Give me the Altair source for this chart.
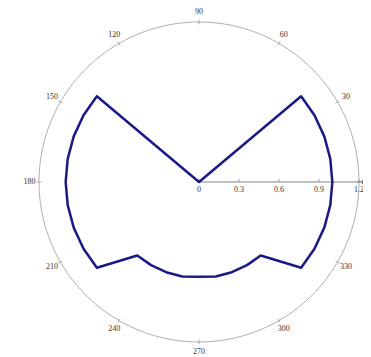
import altair as alt
import pandas as pd

# ---- data ----
theta_deg = [0, 10, 20, 30, 40, 50, 60, 70, 80, 90, 100, 110, 120, 130,
             140, 150, 160, 170, 180, 190, 200, 210, 220, 230, 240, 250,
             260, 270, 280, 290, 300, 310, 320, 330, 340, 350, 360]
r_vals = [1.0, 1.0, 1.0, 1.0, 1.0, 0.0, 0.0, 0.0, 0.0, 0.0, 0.0, 0.0, 0.0, 0.0,
          1.0, 1.0, 1.0, 1.0, 1.0, 1.0, 1.0, 1.0, 1.0, 0.72, 0.72, 0.72,
          0.72, 0.71, 0.72, 0.72, 0.72, 0.72, 1.0, 1.0, 1.0, 1.0, 1.0]
angle_ticks = [0, 30, 60, 90, 120, 150, 180, 210, 240, 270, 300, 330]
angle_labels = ["", "30", "60", "90", "120", "150", "180", "210", "240", "270", "300", "330"]
radial_ticks = [0, 0.3, 0.6, 0.9, 1.2]
radial_labels = ["0", "0.3", "0.6", "0.9", "1.2"]
r_max = 1.2

FONT = "Liberation Serif"
GRID = "#9a9a9a"
TXT = "#333333"

curve_df = pd.DataFrame({"theta": theta_deg, "r": r_vals, "order": list(range(len(theta_deg)))})
ang_df = pd.DataFrame({"a": angle_ticks, "label": angle_labels, "rmax": [r_max] * len(angle_ticks)})
rad_df = pd.DataFrame({"v": radial_ticks, "label": radial_labels})

xs = alt.Scale(domain=[-r_max, r_max], nice=False, zero=False)
ys = alt.Scale(domain=[-r_max, r_max], nice=False, zero=False)


def X(field):
    return alt.X(field, type="quantitative", scale=xs, axis=None)


def Y(field):
    return alt.Y(field, type="quantitative", scale=ys, axis=None)


circle = (
    alt.Chart(alt.sequence(0, 362, 2, as_="t"))
    .transform_calculate(
        cx=f"{r_max}*cos(datum.t*PI/180)", cy=f"{r_max}*sin(datum.t*PI/180)"
    )
    .mark_line(color=GRID, strokeWidth=0.8)
    .encode(x=X("cx"), y=Y("cy"), order="t:Q")
)

circ_ticks = (
    alt.Chart(ang_df)
    .transform_calculate(
        x1="datum.rmax*0.985*cos(datum.a*PI/180)",
        y1="datum.rmax*0.985*sin(datum.a*PI/180)",
        x2="datum.rmax*1.015*cos(datum.a*PI/180)",
        y2="datum.rmax*1.015*sin(datum.a*PI/180)",
    )
    .mark_rule(color=GRID, strokeWidth=0.8)
    .encode(x=X("x1"), y=Y("y1"), x2="x2:Q", y2="y2:Q")
)

ang_text = (
    alt.Chart(ang_df)
    .transform_calculate(
        lx="datum.rmax*1.06*cos(datum.a*PI/180)",
        ly="datum.rmax*1.06*sin(datum.a*PI/180)",
    )
    .mark_text(font=FONT, fontSize=8, color=TXT, align="center", baseline="middle")
    .encode(x=X("lx"), y=Y("ly"), text="label:N")
)

axis_df = pd.DataFrame({"x0": [0.0], "x1": [1.235], "y0": [0.0]})
rad_line = (
    alt.Chart(axis_df)
    .mark_rule(color="#777777", strokeWidth=0.9)
    .encode(x=X("x0"), x2="x1:Q", y=Y("y0"))
)
arrow = (
    alt.Chart(axis_df)
    .mark_point(shape="triangle-right", filled=True, color="#777777", size=20, opacity=1)
    .encode(x=X("x1"), y=Y("y0"))
)

rad_ticks = (
    alt.Chart(rad_df)
    .transform_calculate(y0="0", y1="0.022")
    .mark_rule(color="#888888", strokeWidth=0.8)
    .encode(x=X("v"), y=Y("y0"), y2="y1:Q")
)
rad_text = (
    alt.Chart(rad_df)
    .transform_calculate(y0="0")
    .mark_text(font=FONT, fontSize=8, color=TXT, align="center", baseline="top", dy=4)
    .encode(x=X("v"), y=Y("y0"), text="label:N")
)

curve = (
    alt.Chart(curve_df)
    .transform_calculate(
        px="datum.r*cos(datum.theta*PI/180)", py="datum.r*sin(datum.theta*PI/180)"
    )
    .mark_line(color="#1a1a86", strokeWidth=2.5, strokeJoin="round")
    .encode(x=X("px"), y=Y("py"), order="order:Q")
)

chart = (
    alt.layer(circle, circ_ticks, ang_text, rad_line, arrow, rad_ticks, rad_text, curve)
    .properties(
        width=320,
        height=320,
        autosize="none",
        padding={"left": 31, "top": 14, "right": 4, "bottom": 15},
    )
    .configure_view(stroke=None)
)

chart.save("out.html", embed_options={"renderer": "svg", "actions": False})
